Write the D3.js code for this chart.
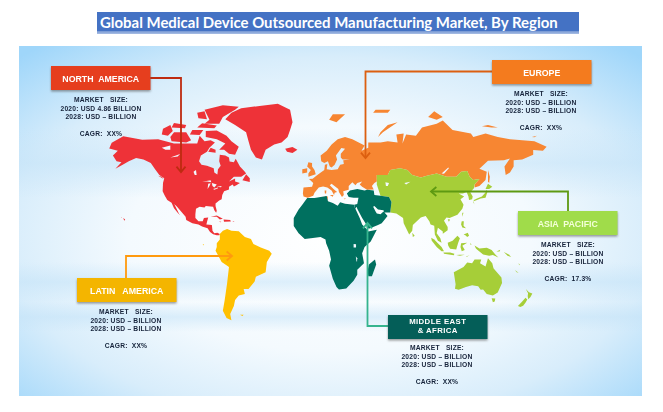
<!DOCTYPE html>
<html>
<head>
<meta charset="utf-8">
<script src="https://cdn.jsdelivr.net/npm/d3@7"></script>
<style>
  html, body { margin: 0; padding: 0; background: #fff; }
  svg { display: block; }
  text { white-space: pre; }
</style>
</head>
<body>
<div id="chart-area"></div>
<script>
// chart text and values
var titleText = "Global Medical Device Outsourced Manufacturing Market, By Region";
var regionNames = [["NORTH  AMERICA"], ["EUROPE"], ["ASIA  PACIFIC"], ["LATIN   AMERICA"], ["MIDDLE EAST", "& AFRICA"]];
var size2020 = ["4.86", "\u2013", "\u2013", "\u2013", "\u2013"];
var size2028 = ["\u2013", "\u2013", "\u2013", "\u2013", "\u2013"];
var cagrText = ["XX%", "XX%", "17.3%", "XX%", "XX%"];

// coastlines, [lon, lat]
var northAmerica = [
  [[-168,65.6],[-166,68.3],[-156.5,71.3],[-141,69.7],[-128,70],[-115,68],[-108,68],[-96,68],[-94,71.5],[-90,69],[-85,69.5],[-81.5,68.5],[-86,66],[-88,64],[-93,62],[-94.5,59],[-92.5,57],[-88,56.5],[-82.5,55],[-82,52.5],[-79.5,51.3],[-79,54.5],[-76.8,56.5],[-78,59],[-77.5,62.4],[-73,62],[-70,61],[-69.5,58.8],[-66,58.5],[-64.5,60.3],[-61,56],[-57,53],[-56,52],[-60,50],[-66,50],[-70,47],[-65,48.8],[-65,47],[-61,46],[-64,44.5],[-66,43.8],[-67,45],[-70,43.5],[-70,41.7],[-74,40.5],[-75.5,38],[-76,35],[-78,34],[-81,32],[-81,30],[-80,26.5],[-80.5,25],[-82,27],[-83,29.5],[-85,29.7],[-89,30],[-90,29],[-94,29.5],[-97,28],[-97.5,24],[-97.5,21],[-95,18.5],[-91.5,18.5],[-90.5,21],[-87,21.5],[-88,18],[-88.5,16],[-84,15.5],[-83.5,11],[-82,9],[-79.5,9.5],[-77.5,8.5],[-78,7.5],[-80,7.5],[-83,8.3],[-85.5,10],[-87.5,13],[-92,14.5],[-95,16],[-100,17],[-105,19.5],[-105.5,22],[-109,25.8],[-112.5,29.5],[-114.8,31.5],[-111,24.5],[-110,23],[-112,25],[-115,28.5],[-117,32.5],[-120.5,34.5],[-122.5,37.5],[-124.3,40.5],[-124,46],[-123,49],[-127,51],[-130.5,54.5],[-134,58],[-140,60],[-146,60.8],[-152,59],[-157,57],[-163,54.8],[-158,58.5],[-162,59],[-165,62],[-161,64.5]],
  [[-73,78.2],[-68,80.5],[-60,82],[-45,82.8],[-30,83.5],[-20,81.5],[-18,77],[-20,74],[-22,71],[-27,68.5],[-33,67.5],[-40,65],[-43,60],[-48,61],[-52,65],[-54,69],[-56,73],[-65,76]],
  [[-80,73.7],[-72,71.5],[-68,69],[-62,66.5],[-65,62.5],[-70,63],[-74,65],[-78,65],[-73,68],[-80,70],[-89,71],[-89,73.5]],
  [[-117,69],[-105,68.5],[-101,69.5],[-105,73],[-115,73],[-118,71]],
  [[-125,72],[-120,71.5],[-116,73.5],[-118,76],[-124,74.5]],
  [[-90,76.5],[-78,76.5],[-75,79],[-65,81.5],[-62,82.5],[-75,83],[-90,81.5],[-86,78]],
  [[-96,75],[-82,74.7],[-80,75.8],[-92,76.6]],
  [[-95,78.5],[-88,78.2],[-90,81],[-96,80.5]],
  [[-117,75],[-106,74.7],[-105,76],[-115,76.7]],
  [[-102,72],[-94,71.8],[-91,74],[-100,74]],
  [[-87,64],[-81,63.5],[-81,65],[-85,66]],
  [[-59,47.7],[-53,46.7],[-53,49],[-56,51.5]],
  [[-128,50.5],[-123.5,48.5],[-125,50]],
  [[-85,22],[-80,23],[-75,20.5],[-77.5,19.9],[-80,22],[-83,22]],
  [[-74.5,19.8],[-69,19.5],[-68.5,18.3],[-74,18.2]],
  [[-78.3,18.4],[-76.3,18.2],[-77,17.7]],
  [[-67.2,18.5],[-65.6,18.4],[-66,18]],
  [[-156.5,21],[-155,19.8],[-155.6,19],[-156.2,20]],
  [[-158.3,21.6],[-157.6,21.3],[-158,21.1]],
  [[-24,65.5],[-18,66.3],[-14,65],[-18,63.4],[-22.5,64]]
];
var europeRussia = [
  [[-9,37],[-9.5,39],[-9,43],[-2,43.5],[-1,46],[-4.5,48.5],[-1.5,48.7],[1.5,50.5],[4,52],[8,54],[8.5,57],[10.5,57.5],[10,54.5],[14,54],[19,54.5],[21,57],[24,57.5],[23.5,59.5],[29,60],[23,60],[21.5,61],[21.5,63],[25,65.5],[22,65.8],[17.5,62],[18.5,60],[16.5,57],[14,55.5],[12.5,56],[11,59],[8,58],[5.5,59],[5,62],[10,64.5],[14,67.5],[19,70],[25,71],[31,70],[41,67],[38.5,64.5],[44,66],[44,68.5],[54,68.5],[60,69],[68,68.5],[67,72],[73,72.5],[72,68],[75,72],[83,71.5],[88,75],[100,76.5],[105,77.7],[113,74],[128,72.5],[130,71],[140,72.5],[150,71],[160,70],[170,69.5],[180,69],[190,66.5],[187,64.5],[179,64.8],[179,62.5],[170,60],[163,59.5],[163,56],[160,52.5],[156.5,51],[155.5,56],[160,60.5],[155,59.5],[142,59.3],[135,54.7],[141,53],[140,48],[135,44],[131,43],[131,45],[135,48.5],[130,48],[127,50],[125,53.5],[120,53],[116,50],[108,50],[100,52],[92,50.5],[87,49.5],[80,51],[76,54],[70,55],[62,54],[60,51],[51,51],[51,47],[49,46],[47,44],[48.5,41.7],[43,41.5],[39,43.5],[37,45],[39,47],[35,46],[33.5,44.5],[31,46.5],[28,44],[28,41.5],[23.5,40.5],[24,38],[22.5,36.5],[20,40],[19.5,42],[14,45.5],[12.5,44.5],[16,41.8],[18.5,40],[16.5,39.5],[16,38],[14,41],[10.5,43],[7,43.7],[3.5,43],[0,39.5],[-1,37.5],[-5.5,36]],
  [[-5,50],[1,51.5],[0,54],[-2,56],[-2,58],[-5,58.5],[-6,56],[-3,54],[-5,52]],
  [[-10,52],[-6,52.5],[-6,55],[-10,54.5]],
  [[52,71],[56,73],[68,77],[60,76],[54,73]],
  [[12,78],[18,77],[25,80],[15,80]],
  [[48,80.5],[60,80.5],[62,81.5],[50,81.5]],
  [[93,79],[100,78],[105,79],[98,81]],
  [[137,75.5],[145,75],[150,75],[142,76]],
  [[178,71],[182,71.5],[180,70.9]],
  [[142,54],[143.5,50],[143,46],[142,47],[142,52]],
  [[12.5,38],[15.5,38],[15,36.7]],
  [[8.3,41],[9.7,41],[9.5,39],[8.5,39]],
  [[8.5,37],[11,37],[10.5,34],[9,32.5],[8,34]],
  [[24,35.5],[26,35.3],[24.5,35]]
];
var asiaPacific = [
  [[51,47],[51,51],[60,51],[62,54],[70,55],[76,54],[80,51],[87,49.5],[92,50.5],[100,52],[108,50],[116,50],[120,53],[125,53.5],[127,50],[130,48],[135,48.5],[131,45],[130.5,42.5],[127.5,39.8],[129.5,37],[129,35],[126.5,34.5],[126,37],[124.5,40],[121.5,39],[118,39],[122.5,37],[119.5,35],[122,31],[121,28],[117,23.5],[110.5,21],[108,21.5],[106,19],[109,14],[109,11.5],[105,8.6],[105,10.5],[101,13.5],[100,9],[103,5],[104,1.5],[101,3],[98.5,8],[98,15],[95,16],[94,18.5],[91,22.5],[87,21.5],[80.5,15.5],[80,11],[77.5,8],[73,17],[72.5,21],[67,24.5],[62,25.2],[63,33],[61,36.5],[54,37.5],[53,40],[51,45]],
  [[130,33.5],[132,34],[136,35.5],[140,36],[141.5,40],[141,41.5],[139.8,39.5],[137,37],[133,35.5],[130.5,34.5],[129.8,33],[131,31.2]],
  [[140,42],[143,42],[145.5,43.5],[142,45.5]],
  [[109,20],[111,19.8],[110,18.2]],
  [[121,25],[122,25],[120.8,22]],
  [[80,9.5],[82,7],[80.5,6]],
  [[95.5,5.5],[98,4],[104,-2],[106,-5.5],[104,-5.5],[100,-2],[96,3]],
  [[105.5,-6.5],[111,-6.5],[114.5,-7.5],[114,-8.7],[106,-7.5]],
  [[109,1.5],[113,3],[117,7],[119,5],[117.5,1],[116,-4],[111,-3.5],[109.5,-1]],
  [[120,1],[125,1.5],[121,-1],[123,-4.5],[120.5,-5.5],[119.5,-2]],
  [[120.5,18.5],[122.2,18.5],[122,15],[124,13],[121,13.7],[120,16]],
  [[122,8],[125.5,9.5],[126.5,7],[125,6],[123.5,7.5]],
  [[116,-8.5],[119,-8.3],[123,-8.3],[119,-9]],
  [[124,-9.8],[127,-8.4],[124.5,-10]],
  [[127.5,1.5],[128.5,0],[127.8,-0.5]],
  [[131,-0.8],[135,-3.3],[141,-2.6],[145,-4.5],[148,-8],[150.5,-10.5],[146,-8.5],[143,-9],[138,-8],[133,-4],[132,-3]],
  [[149,-5.7],[152,-4.2],[151.5,-5.7]],
  [[155,-6],[159,-8],[161,-10],[158,-9]],
  [[164,-20.2],[167,-22.3],[165.5,-22]],
  [[167,-15],[168,-16],[167.5,-16.5]],
  [[114,-22],[122,-18],[125,-14.5],[129,-15],[131,-12],[136.5,-12],[135.5,-15],[140,-17.5],[142,-11],[145.5,-15],[146.5,-19],[153,-26],[153.5,-30],[150,-37],[146,-39],[141,-38],[138,-34.8],[136,-35],[134,-32.5],[129,-31.7],[124,-33],[118,-35],[115,-34.3],[115.5,-31]],
  [[145,-40.8],[148,-41],[147.5,-43],[146,-43.5]],
  [[173,-34.5],[175.5,-36.8],[178.3,-37.7],[176.8,-40],[175,-41.5],[174.5,-39.5],[174.8,-37.5]],
  [[172.7,-40.6],[174.2,-41.7],[172.8,-43.7],[170.8,-45.9],[168.5,-46.6],[166.5,-46],[170,-43]]
];
var latinAmerica = [
  [[-77.5,8.5],[-75,11],[-71.5,12.5],[-68,11],[-62,10.7],[-57,6],[-52,4.5],[-50,0.5],[-44,-2.5],[-37,-5],[-35,-7.5],[-39,-14],[-40,-22],[-48,-25.5],[-49,-29],[-54,-34.5],[-58,-34.5],[-57,-38],[-62,-39],[-65,-42],[-66,-46],[-69,-51],[-68,-54.8],[-72,-53.5],[-75,-49],[-73.5,-42],[-71.5,-30],[-70,-18],[-76,-14],[-81,-5],[-80,-2],[-80,1],[-77.5,4]],
  [[-61,-51.5],[-58,-51.5],[-59,-52.3]],
  [[-91.5,0.5],[-90.5,0],[-91,-0.8]]
];
var middleEastAfrica = [
  [[-6,35.8],[-10,31],[-13,27.5],[-17,21],[-17,14.7],[-13,9],[-8,4.5],[-3,5],[5,6],[9,4],[9.5,1],[12,-5],[13.5,-12],[12,-17],[15,-27],[18,-33],[20,-34.8],[26,-34],[32,-28.5],[35,-24],[35,-20],[40.5,-15],[39,-7],[41,-2],[46,2.5],[51,11.8],[44,10.5],[43,12],[39,16],[37,21],[35,25],[33,29],[32.5,31],[25,31.7],[21,32.8],[19,30.3],[15,32.3],[11,33.5],[10,37.3],[0,35.8]],
  [[32.5,31],[35,31.5],[36,36],[32,36],[28,36.5],[26.5,39],[29,41],[35,42],[41,41],[43,41.5],[48.5,41],[49,38],[54,37.5],[61,36.5],[63,33],[62,25.2],[57,25.5],[56.5,27],[52,27.5],[49,30],[48,29.5],[50,26],[51,24.5],[54,24],[56.5,26],[59.8,22.5],[55,17],[52,15.5],[45,12.8],[43,13],[42,16.5],[39,21],[35,28],[34.5,29.5],[33.5,28]],
  [[49.5,-12],[50.5,-16],[47,-25],[44,-25],[43.5,-21],[44.5,-16]]
];
var lakes = [
  [[-92,46.8],[-85,47.8],[-84.5,46.5],[-88,47]],
  [[-87.5,42],[-86,44],[-85,45.8],[-87,45.5]],
  [[-84,46],[-80,45],[-82,43],[-83.5,44]],
  [[-83,42],[-79,43],[-79,42.5],[-82,41.5]],
  [[-80,43.5],[-76,44],[-76.5,43.3]],
  [[-125,66],[-118,67],[-118,65],[-122,65]],
  [[-118,61],[-110,62.8],[-112,61.5]],
  [[-99,53],[-97,54],[-96.5,51],[-98,51]],
  [[58,46.5],[61,46],[60,44],[58.5,44]],
  [[73.5,46],[78.5,46.8],[75,45]],
  [[104,52],[109.5,55.5],[110,55],[106,51.8]],
  [[32,0.5],[34,0.3],[34,-2.5],[32,-2.5]],
  [[33.8,-9.5],[35,-11],[34.8,-14],[34.3,-13]]
];

// colours, same order as regionNames
var regionColors = ["#EE3338", "#F78633", "#A6CE39", "#FFC000", "#006F5F"];
var boxColors = ["#E63E1E", "#F47B1E", "#A0DC4A", "#F4B500", "#045E58"];
var arrowColors = ["#BE2B10", "#DC5F10", "#5E9A12", "#FF9A0E", "#35B48E"];

// callout layout: box left/top, then the arrow route
var boxX = [51, 492, 518, 77, 388];
var boxY = [66, 60, 211, 278, 315];
var textCenter = [101, 541, 568, 126, 437];
var textTop = [100, 94, 245, 312, 348];
var arrowPaths = [
  [[150, 78], [181, 78], [181, 172]],
  [[492, 71.5], [365.5, 71.5], [365.5, 158]],
  [[568, 211], [568, 191.5], [431, 191.5]],
  [[126, 278], [126, 256], [232, 256]],
  [[388, 326], [367.5, 326], [367.5, 223]]
];

var width = 663, height = 412;
var svg = d3.select("#chart-area").append("svg")
  .attr("width", width)
  .attr("height", height);

var defs = svg.append("defs");

var glow = defs.append("radialGradient").attr("id", "bg-glow")
  .attr("cx", "0.5").attr("cy", "0.55").attr("r", "0.72");
glow.append("stop").attr("offset", "0").attr("stop-color", "#ffffff");
glow.append("stop").attr("offset", "0.45").attr("stop-color", "#f4fafe");
glow.append("stop").attr("offset", "0.72").attr("stop-color", "#d8edfb");
glow.append("stop").attr("offset", "1").attr("stop-color", "#9fd6fa");

var band = defs.append("linearGradient").attr("id", "bg-band").attr("x1", 0).attr("y1", 0).attr("x2", 0).attr("y2", 1);
band.append("stop").attr("offset", "0").attr("stop-color", "#c4e3f8").attr("stop-opacity", 0);
band.append("stop").attr("offset", "0.5").attr("stop-color", "#c4e3f8").attr("stop-opacity", 0.55);
band.append("stop").attr("offset", "1").attr("stop-color", "#c4e3f8").attr("stop-opacity", 0);

var soft = defs.append("filter").attr("id", "soft");
soft.append("feGaussianBlur").attr("stdDeviation", 0.35);
var shadow = defs.append("filter").attr("id", "box-shadow").attr("x", "-10%").attr("y", "-20%").attr("width", "120%").attr("height", "150%");
shadow.append("feGaussianBlur").attr("stdDeviation", 0.8);

// title
svg.append("rect").attr("x", 97).attr("y", 12).attr("width", 482).attr("height", 21.5).attr("fill", "#4472C4");
svg.append("rect").attr("x", 97).attr("y", 31.7).attr("width", 482).attr("height", 0.7).attr("fill", "#ffffff");
svg.append("text")
  .attr("x", 100).attr("y", 27.5)
  .attr("font-family", "Lato")
  .attr("font-weight", 700)
  .attr("font-size", 14.9)
  .attr("textLength", 457.7)
  .attr("lengthAdjust", "spacingAndGlyphs")
  .attr("fill", "#ffffff")
  .text(titleText);

// background panel
var panel = { x: 19, y: 46, w: 623, h: 350 };
svg.append("rect").attr("x", panel.x).attr("y", panel.y).attr("width", panel.w).attr("height", panel.h).attr("fill", "url(#bg-glow)");
[[262, 40], [302, 30], [128, 70]].forEach(function (b) {
  svg.append("rect").attr("x", panel.x).attr("y", b[0]).attr("width", panel.w).attr("height", b[1]).attr("fill", "url(#bg-band)");
});

// map
var projection = d3.geoProjection(function (lambda, phi) {
    return [lambda, 1.27 * Math.log(Math.tan(Math.PI / 4 + 0.4 * phi))];
  })
  .scale(70)
  .translate([314.5, 244.5])
  .precision(0);

var ringPath = d3.line().curve(d3.curveLinearClosed);
function drawRings(g, rings, fill) {
  rings.forEach(function (r) {
    // lon past 180 would wrap to the far left, so shift x by hand
    var pts = r.map(function (p) {
      var q = projection([Math.min(p[0], 180), p[1]]);
      return p[0] > 180 ? [q[0] + (p[0] - 180) * 70 * Math.PI / 180, q[1]] : q;
    });
    g.append("path").attr("d", ringPath(pts)).attr("fill", fill);
  });
}

var map = svg.append("g").attr("filter", "url(#soft)");
[northAmerica, europeRussia, asiaPacific, latinAmerica, middleEastAfrica].forEach(function (rings, i) {
  drawRings(map, rings, regionColors[i]);
});
drawRings(map, lakes, "#f2f9fe");

// arrows
var arrowLine = d3.line();
arrowPaths.forEach(function (pts, i) {
  var a = pts[pts.length - 2], b = pts[pts.length - 1];
  var ang = Math.atan2(b[1] - a[1], b[0] - a[0]);
  var head = [-0.7, 0.7].map(function (t) {
    return [b[0] - 7 * Math.cos(ang + t), b[1] - 7 * Math.sin(ang + t)];
  });
  svg.append("path").attr("d", arrowLine(pts)).attr("fill", "none")
    .attr("stroke", arrowColors[i]).attr("stroke-width", 1.8);
  svg.append("path").attr("d", arrowLine([head[0], b, head[1]])).attr("fill", "none")
    .attr("stroke", arrowColors[i]).attr("stroke-width", 1.8);
});

// callouts
var boxW = 99.5, boxH = 24;
regionNames.forEach(function (lines, i) {
  var g = svg.append("g");
  g.append("rect").attr("x", boxX[i]).attr("y", boxY[i] + 1.5).attr("width", boxW).attr("height", boxH)
    .attr("fill", "#555").attr("opacity", 0.6).attr("filter", "url(#box-shadow)");
  g.append("rect").attr("x", boxX[i]).attr("y", boxY[i]).attr("width", boxW).attr("height", boxH)
    .attr("fill", boxColors[i]);
  var name = g.append("g").attr("filter", "url(#soft)");
  lines.forEach(function (l, j) {
    name.append("text")
      .attr("x", boxX[i] + boxW / 2)
      .attr("y", boxY[i] + (lines.length > 1 ? 9 + j * 9 : 15.5))
      .attr("text-anchor", "middle")
      .attr("font-family", "Liberation Sans")
      .attr("font-weight", 700)
      .attr("font-size", lines.length > 1 ? 7.8 : 8.8)
      .attr("letter-spacing", lines.length > 1 ? 0.4 : 0)
      .attr("fill", i === 2 ? "#f4ffd8" : "#ffffff")
      .text(l);
  });

  var block = [
    { s: "MARKET   SIZE:", dy: 0 },
    { s: "2020: USD " + size2020[i] + " BILLION", dy: 8.6 },
    { s: "2028: USD " + size2028[i] + " BILLION", dy: 16.8 },
    { s: "CAGR:  " + cagrText[i], dy: 34 }
  ];
  var t = g.append("g").attr("filter", "url(#soft)");
  block.forEach(function (d) {
    t.append("text")
      .attr("x", textCenter[i])
      .attr("y", textTop[i] + 2.2 + d.dy)
      .attr("text-anchor", "middle")
      .attr("font-family", "Liberation Sans")
      .attr("font-weight", 700)
      .attr("font-size", 6.7)
      .attr("letter-spacing", 0.2)
      .attr("fill", "#16233a")
      .text(d.s);
  });
});
</script>
</body>
</html>
